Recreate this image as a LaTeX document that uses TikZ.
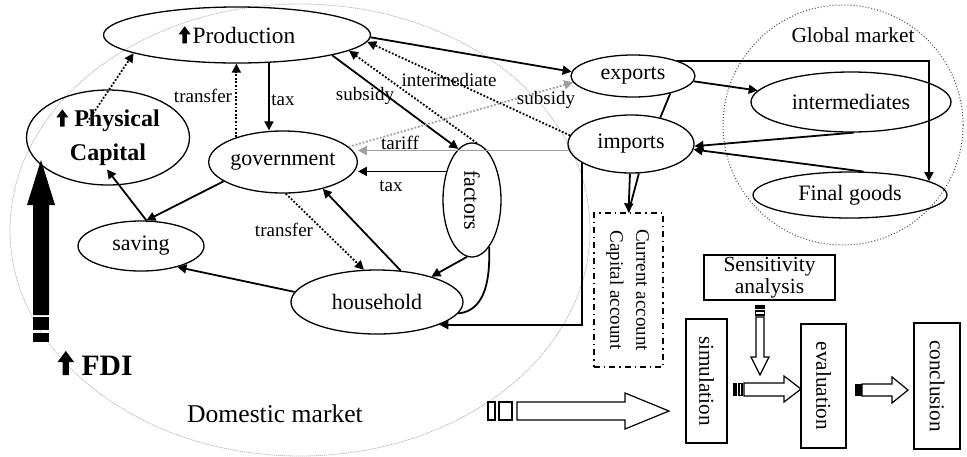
\documentclass[tikz,border=0pt]{standalone}
\usepackage{fontspec}
\setmainfont{Liberation Serif}
\usetikzlibrary{shapes.geometric,arrows.meta,calc}
% dicker Pfeil nach oben im Text
\newcommand{\upar}[1][1]{\tikz[baseline=0pt, x=#1pt, y=#1pt]\fill (-1.1,0) --
	(-1.1,4.6) -- (-3,4.6) -- (0,8.6) -- (3,4.6) -- (1.1,4.6) -- (1.1,0) --
	cycle;}

\tikzset{
	ell/.style={ellipse, draw, line width=0.65pt, inner sep=0pt,
		font=\fontsize{11}{12}\selectfont},
	box/.style={rectangle, draw, line width=0.65pt, inner sep=0pt,
		font=\fontsize{10.6}{12}\selectfont},
	flow/.style={line width=0.9pt, -{Triangle[length=4.5pt,width=4.5pt]}},
	dotflow/.style={flow, dash pattern=on 0.9pt off 0.9pt},
	lbl/.style={font=\fontsize{9.5}{11}\selectfont, inner sep=1pt},
	blockarrow/.style={draw, line width=0.6pt, fill=white},
}

\begin{document}
\begin{tikzpicture}[x=0.5pt, y=-0.5pt]
	\useasboundingbox (0,0) rectangle (967,456);
	% Maerkte
	\draw[gray!55, line width=0.4pt, dash pattern=on 0.6pt off 0.4pt] (300,230)
	ellipse [x radius=290, y radius=226];
	\draw[gray!60!black, line width=0.5pt, densely dotted] (843,125) circle
	[radius=120];
	\node[font=\fontsize{10.7}{12}\selectfont] (global) at (853,35) {Global market};
	\node[font=\fontsize{12.8}{14}\selectfont] (domestic) at (275,414) {Domestic
	market};
	% Sektoren
	\node[ell, minimum width=133.5pt, minimum height=28pt,
	font=\fontsize{11.7}{13}\selectfont] (prod) at (237,35) {\upar\hspace{1pt}Production};
	\node[ell, minimum width=81.5pt, minimum height=47.5pt, align=center,
	font=\bfseries\fontsize{12}{17}\selectfont] (cap) at (108,137.5) {\upar\
	Physical\\Capital};
	\node[ell, minimum width=69pt, minimum height=31pt] (gov) at (283,162)
	{government};
	\node[ell, minimum width=63pt, minimum height=25pt] (saving) at (141,246)
	{saving};
	\node[ell, minimum width=86pt, minimum height=32pt] (hh) at (377,302)
	{household};
	\node[ell, minimum width=29pt, minimum height=57pt] (factors) at (472,200)
	{\rotatebox{-90}{factors}};
	\node[ell, minimum width=62pt, minimum height=21pt] (exports) at (633,76)
	{exports};
	\node[ell, minimum width=63pt, minimum height=29pt] (imports) at (631,144)
	{imports};
	\node[ell, minimum width=100pt, minimum height=30pt] (inter) at (851,102)
	{intermediates};
	\node[ell, minimum width=97pt, minimum height=23pt] (final) at (850,195)
	{Final goods};
	\node[box, dash dot, minimum width=34.5pt, minimum height=77pt,
	font=\fontsize{9.5}{13}\selectfont] (acct) at (628.5,290)
	{\rotatebox{-90}{\begin{tabular}{@{}c@{}}Current account\\Capital
	account\end{tabular}}};
	% Ablauf
	\node[box, minimum width=65.5pt, minimum height=22.5pt, align=center,
	font=\fontsize{10.75}{9.5}\selectfont] (sens) at (769.5,277.5)
	{Sensitivity\\analysis};
	\node[box, minimum width=20.5pt, minimum height=62pt] (sim) at (706.5,381)
	{\rotatebox{-90}{simulation}};
	\node[box, minimum width=22.5pt, minimum height=62pt] (eval) at (823.5,386)
	{\rotatebox{-90}{evaluation}};
	\node[box, minimum width=23pt, minimum height=63pt] (concl) at (937,386)
	{\rotatebox{-90}{conclusion}};
	% Stroeme im Inland
	\draw[flow] (prod.-41) -- (prod.-41 |- gov.north);
	\node[lbl] (taxA) at (283,100) {tax};
	\draw[dotflow] (gov.152) -- (gov.152 |- prod.south);
	\node[lbl] (transferA) at (203,96) {transfer};
	\draw[dotflow] ($(cap.center)+(-21,-15)$) -- (prod.190);
	\draw[flow] (prod.-12) -- (factors.105);
	\node[lbl] (subsidyA) at (365,96) {subsidy};
	\draw[dotflow] (factors.85) -- (prod.-8);
	\draw[dotflow] (imports.172) -- (prod.-3);
	\node[lbl] (interA) at (449,80) {intermediate};
	\draw[flow, gray!75, dash pattern=on 0.9pt off 0.9pt] (gov.13) --
	(exports.186);
	\node[lbl] (subsidyB) at (546,100) {subsidy};
	\draw[flow, gray!75] (imports.186) -- (gov.east |- imports.186);
	\node[lbl] (tariff) at (400,143) {tariff};
	\draw[flow] (factors.132) -- (gov.east |- factors.132);
	\node[lbl] (taxB) at (391,186) {tax};
	\draw[flow] (hh.53) -- (gov.-34);
	\draw[dotflow] (gov.-85) -- (hh.112);
	\node[lbl] (transferB) at (284,230) {transfer};
	\draw[flow] (gov.198) -- (saving.78);
	\draw[flow] (saving.78) -- ($(cap.center)+(-1,32)$);
	\draw[flow] (hh.173) -- (saving.-30);
	\draw[flow] (factors.-95) -- (hh.25);
	\draw[line width=0.9pt] (factors.-70) to[out=-88, in=5] (hh.-8);
	\draw[flow] (imports.201) |- (hh.-20);
	\draw[flow] (imports.-92) -- (acct.north);
	\draw[line width=0.9pt] (imports.-75) -- (acct.north);
	% Aussenhandel
	\draw[flow] (prod.-1) -- (exports.176);
	\draw[line width=0.9pt] (exports.-25) -- (imports.42);
	\draw[flow] (exports.-5) -- (inter.173);
	\draw[flow] (exports.19) -| (final.10);
	\draw[flow] (inter.-85) -- (imports.-2);
	\draw[flow] (final.60) -- (imports.-5);
	% FDI
	\fill (33,205) -- (27,205) -- (41,160) -- (55,205) -- (49,205) -- (49,315)
	-- (33,315) -- cycle;
	\fill (33,317) rectangle (49,330);
	\fill (33,333) rectangle (49,342);
	\node[font=\bfseries\fontsize{14.8}{16}\selectfont] (fdi) at (95,363)
	{\upar[1.4]\ FDI};
	% Blockpfeile
	\draw[blockarrow] (488,402) rectangle (495,420);
	\draw[blockarrow] (499,402) rectangle (512,420);
	\draw[blockarrow] (517,402) -- (625,402) -- (625,393) -- (669,411) --
	(625,429) -- (625,420) -- (517,420) -- cycle;
	\draw[blockarrow] (756,317) -- (756,357) -- (751,357) -- (760,375) --
	(769,357) -- (764,357) -- (764,317) -- cycle;
	\fill (755,305) rectangle (765,309);
	\draw[line width=0.6pt] (755.5,311) rectangle (764.5,315);
	\draw[blockarrow] (744,383) -- (784,383) -- (784,376) -- (801,389) --
	(784,402) -- (784,396) -- (744,396) -- cycle;
	\fill (733,383) rectangle (737,396);
	\draw[line width=0.6pt] (739,383.5) rectangle (742,395.5);
	\draw[blockarrow] (862,384) -- (892,384) -- (892,377) -- (908,390) --
	(892,403) -- (892,396) -- (862,396) -- cycle;
	\fill (855,384) rectangle (858,396);
	\draw[line width=0.6pt] (859,384.5) rectangle (861,395.5);
\end{tikzpicture}
\end{document}
